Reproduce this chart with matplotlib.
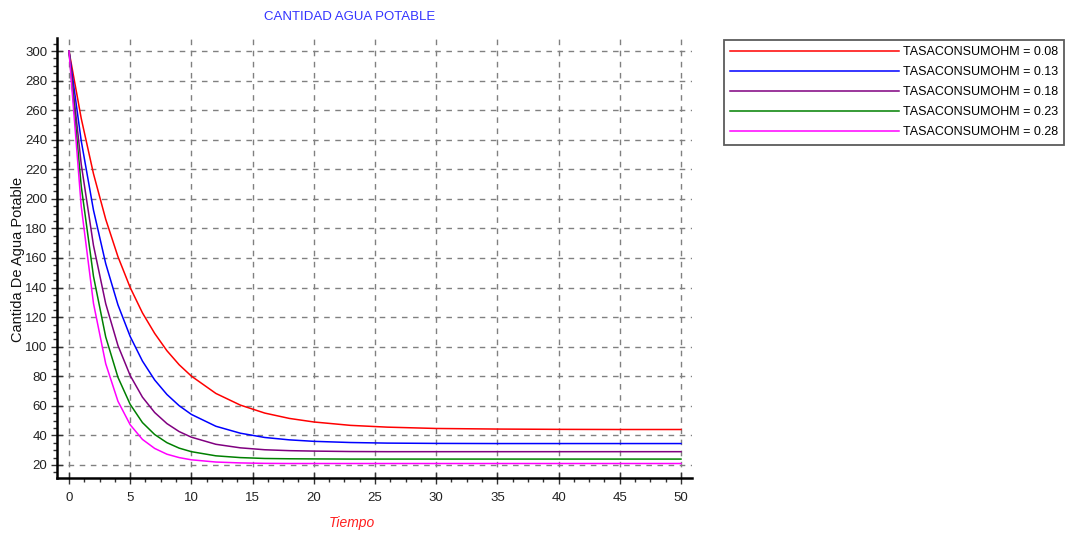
import matplotlib
matplotlib.use("Agg")
import matplotlib.pyplot as plt
from matplotlib.ticker import MultipleLocator

plt.rcParams['font.family'] = ['Liberation Sans', 'DejaVu Sans']

# Data
tiempo = [0, 1, 2, 3, 4, 5, 6, 7, 8, 9, 10, 12, 14, 16, 18, 20, 23, 26, 30, 35, 40, 45, 50]
tasa_008 = [300, 254.4, 217.0, 186.2, 160.9, 140.0, 122.9, 109.0, 97.3, 87.8, 80.1, 68.4, 60.5, 55.1,
            51.5, 49.1, 46.8, 45.6, 44.7, 44.3, 44.1, 44.0, 44.0]
tasa_013 = [300, 239.2, 192.4, 156.2, 128.3, 106.9, 90.3, 77.5, 67.7, 60.1, 54.2, 46.2, 41.5, 38.6,
            37.0, 36.0, 35.2, 34.8, 34.6, 34.5, 34.5, 34.5, 34.5]
tasa_018 = [300, 223.4, 168.5, 129.1, 100.8, 80.5, 65.9, 55.5, 48.0, 42.6, 38.8, 34.0, 31.6, 30.3,
            29.7, 29.4, 29.1, 29.0, 29.0, 29.0, 29.0, 29.0, 29.0]
tasa_023 = [300, 208.6, 147.6, 106.6, 79.3, 61.0, 48.7, 40.6, 35.1, 31.4, 29.0, 26.2, 25.0, 24.4,
            24.2, 24.1, 24.0, 24.0, 24.0, 24.0, 24.0, 24.0, 24.0]
tasa_028 = [300, 194.9, 129.3, 88.5, 63.1, 47.2, 37.3, 31.2, 27.3, 25.0, 23.5, 22.0, 21.4, 21.1,
            21.0, 21.0, 21.0, 21.0, 21.0, 21.0, 21.0, 21.0, 21.0]

series_labels = ["TASACONSUMOHM = 0.08", "TASACONSUMOHM = 0.13", "TASACONSUMOHM = 0.18",
                 "TASACONSUMOHM = 0.23", "TASACONSUMOHM = 0.28"]
series_values = [tasa_008, tasa_013, tasa_018, tasa_023, tasa_028]
colors = ["#FF0000", "#0000FF", "#800080", "#008000", "#FF00FF"]

W, H = 1071, 533
fig = plt.figure(figsize=(W / 100, H / 100), dpi=100)
ax = fig.add_axes([57 / W, 1 - 478 / H, (692 - 57) / W, (478 - 38) / H])

lines = []
for vals, lab, c in zip(series_values, series_labels, colors):
    ln, = ax.plot(tiempo, vals, color=c, lw=1.1, label=lab)
    lines.append(ln)

ax.set_xlim(-0.98, 50.9)
ax.set_ylim(11.2, 308.8)
ax.xaxis.set_major_locator(MultipleLocator(5))
ax.xaxis.set_minor_locator(MultipleLocator(1.25))
ax.yaxis.set_major_locator(MultipleLocator(20))
ax.yaxis.set_minor_locator(MultipleLocator(5))
ax.set_yticks(range(20, 301, 20))

ax.grid(True, which='major', color='#808080', linestyle=(0, (4, 4)), linewidth=1)
ax.set_axisbelow(True)

for s in ['top', 'right']:
    ax.spines[s].set_visible(False)
for s in ['left', 'bottom']:
    ax.spines[s].set_linewidth(1.8)
    ax.spines[s].set_color('#000000')

ax.tick_params(axis='both', which='major', direction='inout', length=8, width=1, color='#333333',
               labelsize=9.5, labelcolor='#222222')
ax.tick_params(axis='both', which='minor', direction='out', length=3, width=1, color='#333333')
ax.tick_params(axis='x', pad=6)
ax.tick_params(axis='y', pad=3)

fig.text(350 / W, 1 - 17 / H, "CANTIDAD AGUA POTABLE", color='#3333FF', fontsize=9.5,
         ha='center', va='center')
fig.text(352 / W, 1 - 523 / H, "Tiempo", color='#FF2020', style='italic', fontsize=10,
         ha='center', va='center')
fig.text(18 / W, 1 - 259 / H, "Cantida De Agua Potable", color='#111111', fontsize=10.5,
         rotation=90, ha='center', va='center')

leg = fig.legend(handles=lines, loc='upper left', bbox_to_anchor=(724 / W, 1 - 40 / H),
                 frameon=True, fancybox=False, edgecolor='#333333', fontsize=9,
                 handlelength=13.5, handletextpad=0.3, labelspacing=0.64, borderpad=0.5,
                 borderaxespad=0)
leg.get_frame().set_linewidth(1.3)

fig.savefig("out.png", dpi=100, facecolor='white')
